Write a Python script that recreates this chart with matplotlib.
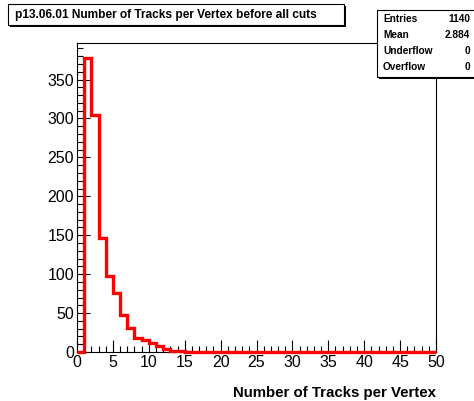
import numpy as np
from matplotlib import pyplot as plt
from matplotlib.patches import Rectangle
from matplotlib.ticker import MultipleLocator

plt.rcParams['font.family'] = ['Liberation Sans', 'DejaVu Sans']

# histogram contents, bins of width 1 from 0 to 50
edges = np.arange(0, 51)
counts = [0, 378, 304, 147, 97, 76, 48, 31, 18, 15, 12, 8, 4, 1, 1] + [0] * 35

title = 'p13.06.01 Number of Tracks per Vertex before all cuts'
xlabel = 'Number of Tracks per Vertex'
stat_names = ['Entries', 'Mean', 'Underflow', 'Overflow']
stat_values = ['1140', '2.884', '0', '0']

W, H = 474, 401


def fx(px):
    return px / W


def fy(py):
    return 1 - py / H


fig = plt.figure(figsize=(W / 100, H / 100), dpi=100)
ax = fig.add_axes([fx(77), fy(352), fx(436) - fx(77), fy(43) - fy(352)])

ax.stairs(counts, edges, color='red', linewidth=2.4, baseline=0, clip_on=False, zorder=3)

ax.set_xlim(0, 50)
ax.set_ylim(0, max(counts) * 1.05)
ax.xaxis.set_major_locator(MultipleLocator(5))
ax.xaxis.set_minor_locator(MultipleLocator(1))
ax.yaxis.set_major_locator(MultipleLocator(50))
ax.yaxis.set_minor_locator(MultipleLocator(10))
ax.tick_params(which='both', direction='in', top=False, right=False, labelsize=11.5, width=0.8)
ax.tick_params(which='major', length=9, pad=2)
ax.tick_params(which='minor', length=4.5)
for s in ax.spines.values():
    s.set_linewidth(0.8)

fig.text(fx(436), fy(393), xlabel, ha='right', va='center', fontsize=10.8, fontweight='bold')

# title box with shadow
fig.add_artist(Rectangle((fx(10), fy(27)), fx(336), fy(4) - fy(25), transform=fig.transFigure,
                         facecolor='black', edgecolor='black', lw=0))
fig.add_artist(Rectangle((fx(8), fy(25)), fx(336), fy(4) - fy(25), transform=fig.transFigure,
                         facecolor='white', edgecolor='black', lw=0.8))
fig.text(fx(15), fy(15), title, ha='left', va='center', fontsize=8.6, fontweight='bold')

# stats box with shadow
fig.add_artist(Rectangle((fx(379), fy(79)), fx(100), fy(10) - fy(77), transform=fig.transFigure,
                         facecolor='black', edgecolor='black', lw=0))
fig.add_artist(Rectangle((fx(377), fy(77)), fx(100), fy(10) - fy(77), transform=fig.transFigure,
                         facecolor='white', edgecolor='black', lw=0.8))
for i, (n, v) in enumerate(zip(stat_names, stat_values)):
    y = fy(19 + 16 * i)
    fig.text(fx(383), y, n, ha='left', va='center', fontsize=7.3, fontweight='bold')
    fig.text(fx(470), y, v, ha='right', va='center', fontsize=7.3, fontweight='bold')

fig.savefig('out.png', dpi=100)
